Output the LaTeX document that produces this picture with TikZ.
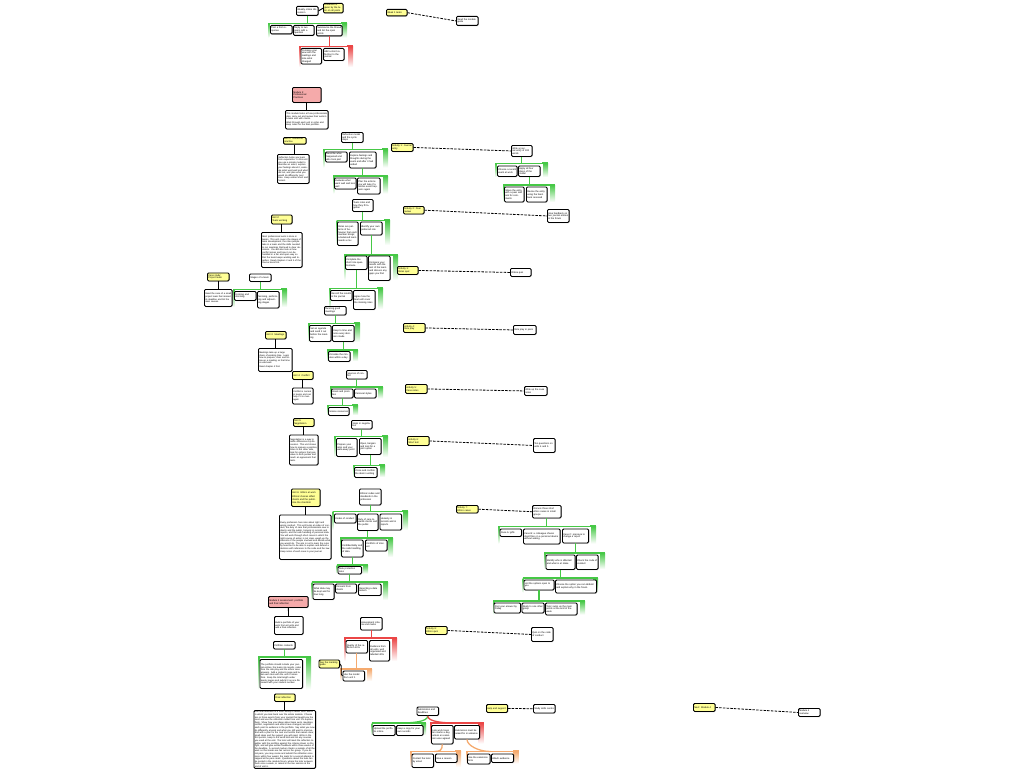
\documentclass[tikz,border=0pt]{standalone}
\usepackage{fontspec}
\setmainfont{Liberation Sans}
\usetikzlibrary{shadows}
\definecolor{grn}{RGB}{70,200,70}
\definecolor{rd}{RGB}{235,70,70}
\definecolor{orn}{RGB}{245,170,110}
\definecolor{tagyel}{RGB}{255,255,150}
\definecolor{headred}{RGB}{245,170,170}
% group frame: name, colour, x1, y1, x2, y2
\newcommand{\grp}[6]{%
  \shade[top color=#2, bottom color=white] (#3,#4) rectangle ({#3+1.4},#6);
  \shade[top color=#2, bottom color=white] ({#5-5},#4) rectangle (#5,#6);
  \fill[#2] ({#5-6},{#4-1.4}) rectangle (#5,{#4+0.8});
  \draw[#2, line width=1.4pt] (#3,#4) -- (#5,#4);
  \coordinate (#1) at (#3,#4);}
\begin{document}
\begin{tikzpicture}[x=1pt, y=-1pt,
    card/.style={draw, line width=0.9pt, rounded corners=1.2pt, fill=white, anchor=north west,
      align=left, inner sep=0.8pt, font=\fontsize{2.4}{2.8}\selectfont,
      drop shadow={shadow xshift=0.6pt, shadow yshift=-0.6pt, fill=black!55}},
    para/.style={card, font=\fontsize{2.3}{2.6}\selectfont},
    tag/.style={card, fill=tagyel},
    head/.style={card, fill=headred},
    glink/.style={grn, line width=1.3pt},
    rlink/.style={rd, line width=1.3pt},
    olink/.style={orn, line width=1.3pt},
    blink/.style={line width=0.9pt},
    dlink/.style={line width=0.8pt, dash pattern=on 2.5pt off 1.2pt}]
\useasboundingbox (0,0) rectangle (1024,768);

% group frames
\grp{g1}{grn}{268}{23.5}{347}{37.5}
\grp{g2}{rd}{299}{46.5}{353}{67}
\grp{g3}{grn}{323}{149.5}{388}{167.5}
\grp{g4}{grn}{333}{176}{388}{193.5}
\grp{g5}{grn}{495}{163.5}{548}{177}
\grp{g6}{grn}{503}{185}{555}{202}
\grp{g7}{grn}{233}{289.5}{287}{307}
\grp{g8}{grn}{336.5}{220.5}{390}{245}
\grp{g9}{grn}{344}{255}{398}{280}
\grp{g10}{grn}{329}{288.5}{383}{309}
\grp{g11}{grn}{308}{323.5}{360}{342}
\grp{g12}{grn}{327}{350}{358}{361}
\grp{g13}{grn}{330}{387}{383}{398.5}
\grp{g14}{grn}{327}{405.5}{358}{415}
\grp{g15}{grn}{334}{436.5}{388}{457}
\grp{g16}{grn}{353}{465.5}{385}{477}
\grp{g17}{grn}{332.5}{511.5}{408}{530}
\grp{g18}{grn}{340}{538}{393}{557}
\grp{g19}{grn}{336.5}{565}{368}{573.5}
\grp{g20}{grn}{311.5}{582}{388}{600}
\grp{g21}{grn}{498}{526.5}{596}{543.5}
\grp{g22}{grn}{544}{553}{605}{569}
\grp{g23}{grn}{522.5}{578}{598}{592.5}
\grp{g24}{grn}{493}{601}{585}{614.5}
\grp{g25}{grn}{258}{657}{311}{689.5}
\grp{g26}{rd}{344}{638}{397}{661}
\grp{g27}{orn}{340}{669}{372}{681}
\grp{g28}{grn}{371.5}{723}{426}{735}
\grp{g29}{rd}{430}{723}{483.5}{743.5}
\grp{g30}{orn}{410}{751.5}{461}{767}
\grp{g31}{orn}{466}{751.5}{518.5}{763.5}

% forum
\node[card, text width=20pt, minimum height=9pt] (a1) at (296,6) {Weekly online discussion};
\node[tag, text width=18pt, minimum height=9pt] (y1) at (323,3) {Feedback is given by the tutor on all posts};
\node[card, text width=20pt, minimum height=8.5pt] (c11) at (270,25) {Post a first response};
\node[card, text width=19pt, minimum height=10pt] (c12) at (293,25) {Reply to two peers with a question};
\node[card, text width=24pt, minimum height=10.5pt] (c13) at (316,25) {Summarise the thread and list the open points};
\node[card, text width=19pt, minimum height=15.5pt] (c21) at (300.5,48) {Compare your view with the readings and note what changed};
\node[card, text width=19pt, minimum height=12pt] (c22) at (323,48) {Add a short reflection to the journal};
\node[tag, text width=19pt, minimum height=6.5pt] (y2) at (386,9) {Week 1 tasks};
\node[card, text width=20pt, minimum height=9pt] (b2) at (456,16) {Read the module guide};

% module
\node[head, text width=27pt, minimum height=15pt] (h1) at (292,87) {Module 3:\\ Professional\\ Practices};
\node[para, text width=41pt, minimum height=18.5pt] (t1) at (285,110) {This module looks at how professionals plan, carry out and review their work in a team and with clients.\\[1pt] Work through each unit in order and keep notes for the final portfolio.};
\node[tag, text width=21pt, minimum height=6.5pt] (y3) at (283,137) {Unit 1: Reflective practice};
\node[para, text width=30pt, minimum height=29pt] (t2) at (277,154) {Reflection helps you learn from experience. In this unit you use a simple model to describe an event, explore your feelings about it, evaluate what went well and what did not, and plan what you would do differently next time. Keep entries short and honest.};
\node[card, text width=20pt, minimum height=10pt] (a2) at (341,132) {Reflection model and the cycle steps};
\node[card, text width=20pt, minimum height=10pt] (c31) at (325,151.5) {Describe what happened and who took part};
\node[card, text width=25pt, minimum height=16pt] (c32) at (349,151.5) {Explore feelings and thoughts during the event and after it had ended};
\node[card, text width=20pt, minimum height=11pt] (c41) at (334,177.5) {Evaluate what went well and less well};
\node[card, text width=21pt, minimum height=16pt] (c42) at (357,177.5) {Plan the actions you will take if a similar event happens again};

\node[tag, text width=20pt, minimum height=8pt] (y4) at (391,143) {Activity 1: Journal entry};
\node[card, text width=19pt, minimum height=11pt] (b4) at (511,145) {Write a journal entry of 300 words};
\node[card, text width=18pt, minimum height=10.5pt] (c51) at (497,165.5) {Choose a recent event at work};
\node[card, text width=20pt, minimum height=10.5pt] (c52) at (518,165.5) {Apply all four steps of the model};
\node[card, text width=18pt, minimum height=15pt] (c61) at (504,186.5) {Share the entry with a peer and ask for comments};
\node[card, text width=19pt, minimum height=15pt] (c62) at (526,186.5) {Revise the entry using the feedback received};
\node[tag, text width=19pt, minimum height=7.5pt] (y5) at (403,206) {Activity 2: Peer review};
\node[card, text width=20pt, minimum height=13pt] (b5) at (547,209) {Give feedback on two journal entries in the forum};

% teams
\node[tag, text width=19pt, minimum height=9pt] (y6) at (271,214.5) {Unit 2:\\ Team working};
\node[para, text width=39pt, minimum height=35pt] (t3) at (261,232) {Most professional work is done in teams. This unit covers the stages of team development, the roles people take in a team and the skills needed to run meetings that lead to clear decisions. You will also look at how conflict arises and how it can be handled in a fair and open way so that the team keeps working well together. Read chapters 2 and 3 of the course book first.};
\node[tag, text width=20pt, minimum height=8pt] (y7) at (207,272.5) {Case study:\\ Project team};
\node[para, text width=26pt, minimum height=17pt] (t4) at (204,289) {Read the case of a small project team that missed its deadline and list the main causes.};
\node[card, text width=20pt, minimum height=7.5pt] (a3) at (249,273.5) {Stages of a team};
\node[card, text width=20pt, minimum height=9pt] (c71) at (234,291) {Forming and storming};
\node[card, text width=20pt, minimum height=16.5pt] (c72) at (257,291) {Norming, performing and adjourning stages};

\node[card, text width=19pt, minimum height=12pt] (a4) at (352,199) {Team roles and how they fit together};
\node[card, text width=19pt, minimum height=23.5pt] (c81) at (337,221.5) {Roles are patterns of behaviour that each member brings; a balanced team needs a mix};
\node[card, text width=20pt, minimum height=13pt] (c82) at (360,221.5) {Identify your own preferred role};
\node[card, text width=20pt, minimum height=13.5pt] (c91) at (345,255.5) {Complete the short role questionnaire};
\node[card, text width=20pt, minimum height=24.5pt] (c92) at (368,255.5) {Compare your results with the rest of the team and discuss any gaps you find};
\node[card, text width=20pt, minimum height=10pt] (c101) at (330,290) {Record the results in the journal};
\node[card, text width=20pt, minimum height=19pt] (c102) at (353,290) {Agree how the team will cover the missing roles};
\node[tag, text width=19pt, minimum height=8pt] (y8) at (397,266) {Activity 3:\\ Roles quiz};
\node[card, text width=19pt, minimum height=8pt] (b8) at (510,268) {Online quiz};

% meetings and conflict
\node[card, text width=20pt, minimum height=8.5pt] (a5) at (324,306) {Running good meetings};
\node[card, text width=20pt, minimum height=16pt] (c111) at (309,325) {Set an agenda and send it out before the meeting};
\node[card, text width=20pt, minimum height=16pt] (c112) at (332,325) {Keep to time and note every decision made};
\node[card, text width=20pt, minimum height=10pt] (c121) at (328,351) {Circulate the minutes within a day};
\node[tag, text width=19pt, minimum height=7.5pt] (y9) at (265,331) {Unit 3: Meetings};
\node[para, text width=32pt, minimum height=23pt] (t5) at (258,348) {Meetings take up a large share of working time. Learn how to prepare, chair and follow up a meeting so that time is used well.\\[1pt] Read chapter 4 first.};
\node[tag, text width=19pt, minimum height=8pt] (y10) at (292,371) {Unit 4: Conflict};
\node[para, text width=19pt, minimum height=16pt] (t6) at (292,387.5) {Conflict is normal in teams and can help if it is managed.};
\node[card, text width=19pt, minimum height=8.5pt] (a6) at (346,370) {Sources of conflict};
\node[card, text width=20pt, minimum height=9pt] (c131) at (331,388.5) {Goals and priorities};
\node[card, text width=20pt, minimum height=9pt] (c132) at (354,388.5) {Personal styles};
\node[card, text width=19pt, minimum height=8pt] (c141) at (328,407) {Scarce resources};
\node[tag, text width=19pt, minimum height=8pt] (y11) at (293,418) {Unit 5:\\ Negotiation};
\node[para, text width=27pt, minimum height=30pt] (t7) at (289,434.5) {Negotiation is a way to settle differences by discussion. This unit shows how to prepare a position, listen to the other side, look for options that give value to both parties and reach an agreement that lasts.};
\node[card, text width=19pt, minimum height=8.5pt] (a7) at (351,420) {Steps in negotiation};
\node[card, text width=19pt, minimum height=18pt] (c151) at (336,438) {Prepare your aims and your walk-away point};
\node[card, text width=20pt, minimum height=16pt] (c152) at (359,438) {Open, bargain and look for a joint option};
\node[card, text width=21pt, minimum height=10pt] (c161) at (354,467) {Close and confirm the deal in writing};
\node[tag, text width=20pt, minimum height=9pt] (y12) at (403,323) {Activity 4:\\ Role play};
\node[card, text width=21pt, minimum height=9pt] (b12) at (513,325) {Role play in pairs};
\node[tag, text width=20pt, minimum height=9pt] (y13) at (405,384) {Activity 5:\\ Case notes};
\node[card, text width=21pt, minimum height=9pt] (b13) at (524,386) {Write up the case notes};
\node[tag, text width=20pt, minimum height=9pt] (y14) at (407,436) {Activity 6:\\ Short test};
\node[card, text width=20pt, minimum height=14pt] (b14) at (533,438) {Ten questions on units 4 and 5};

% ethics
\node[tag, text width=27pt, minimum height=17.5pt] (y15) at (291,488.5) {Unit 6: Ethics at work\\[1pt] Ethical choices affect clients and the public. Use the checklist.};
\node[para, text width=50pt, minimum height=44.5pt] (t8) at (279,514.5) {Every profession has rules about right and wrong conduct. This unit looks at codes of conduct, the duty of care that professionals owe to clients and the public, honesty in records and reports, and the safe handling of personal data. You will work through short cases in which the right course of action is not clear, weigh up the interests of the people involved and decide what you would do. The aim is not to learn the rules by heart but to be able to explain and defend a decision with reference to the code and the law. Keep notes of each case in your journal.};
\node[card, text width=20pt, minimum height=16pt] (a8) at (359,488.5) {Ethical codes and standards in the profession};
\node[card, text width=20pt, minimum height=9pt] (c171) at (334,513.5) {Codes of conduct};
\node[card, text width=19pt, minimum height=16.5pt] (c172) at (357,513.5) {Duty of care towards clients and the public};
\node[card, text width=20pt, minimum height=16pt] (c173) at (379.5,513.5) {Honesty in records and in reports};
\node[card, text width=20pt, minimum height=17pt] (c181) at (341,539.5) {Confidentiality and the safe handling of data};
\node[card, text width=20pt, minimum height=11pt] (c182) at (365,539.5) {Conflicts of interest};
\node[card, text width=22pt, minimum height=7.5pt] (c191) at (337.5,566) {Data protection rules};
\node[card, text width=19.5pt, minimum height=15.5pt] (c201) at (312.5,583.5) {What data may be kept and for how long};
\node[card, text width=19.5pt, minimum height=9pt] (c202) at (335,583.5) {Consent from clients};
\node[card, text width=21pt, minimum height=11.5pt] (c203) at (358,583.5) {Reporting a data breach};

\node[tag, text width=20pt, minimum height=7.5pt] (y16) at (456,505) {Activity 7:\\ Ethics cases};
\node[card, text width=27pt, minimum height=12.5pt] (b16) at (532,505) {Discuss three short ethics cases in small groups};
\node[card, text width=20pt, minimum height=7.5pt] (c211) at (499.5,528.5) {Case A: gifts};
\node[card, text width=35pt, minimum height=15pt] (c212) at (523,528.5) {Case B: a colleague shares client files on a personal device without asking};
\node[card, text width=24.5pt, minimum height=14pt] (c213) at (562,528.5) {Case C: pressure to change a report};
\node[card, text width=27.5pt, minimum height=14.5pt] (c221) at (545.5,554.5) {Identify who is affected and what is at stake};
\node[card, text width=20pt, minimum height=14.5pt] (c222) at (576,554.5) {Check the code of conduct};
\node[card, text width=28.5pt, minimum height=10pt] (c231) at (523.5,579.5) {List the options open to you};
\node[card, text width=39.5pt, minimum height=13pt] (c232) at (555,579.5) {Choose the option you can defend and explain why in the forum};
\node[card, text width=25pt, minimum height=10pt] (c241) at (493.5,602.5) {Post your answer by Friday};
\node[card, text width=20.5pt, minimum height=10pt] (c242) at (521.5,602.5) {Reply to one other group};
\node[card, text width=30pt, minimum height=12pt] (c243) at (545,602.5) {Tutor sums up the main points at the end of the week};
\node[tag, text width=20pt, minimum height=8pt] (y17) at (425,626) {Activity 8:\\ Ethics quiz};
\node[card, text width=20pt, minimum height=14pt] (b17) at (531,627) {Quiz on the code of conduct};

% assessment
\node[head, text width=38pt, minimum height=11pt] (h2) at (268,596) {Module 3 assessment: portfolio and final reflection};
\node[para, text width=27pt, minimum height=18pt] (t9) at (274,616) {Build a portfolio of your work from all units and add a final reflection.};
\node[card, text width=20pt, minimum height=7.5pt] (a9) at (273,641) {Portfolio contents};
\node[para, text width=41pt, minimum height=29pt] (t10) at (259.5,659) {The portfolio should include your journal entries, the team role results, notes from the role play and the ethics case answers. Add a contents page and label each item with the unit it comes from. Keep the total length under twenty pages and submit it as one file named with your student number.};
\node[tag, text width=19pt, minimum height=7.5pt] (y18) at (274,693.5) {Final reflection};
\node[para, text width=60pt, minimum height=55pt] (t11) at (253.5,710) {The final reflection is a short essay of about 1500 words in which you look back over the whole module. Choose two or three events from your journal that taught you the most and use the reflection model from unit 1 to explore them. Show how your ideas about team work, meetings, conflict, negotiation and ethics have changed, and link each point to evidence in the portfolio. Say what you now do differently at work and what you still want to improve. End with a plan for the next six months that names clear, small steps and the support you will need. Write in the first person, keep to the word limit and list any sources you used at the end. The tutor will mark the reflection together with the portfolio against the criteria shown on the right, and will give written feedback within three weeks of the deadline. A second marker checks a sample of all the work so that marks are fair across the group. If you do not pass, you may revise and submit the reflection once more within four weeks; the mark for a second attempt is capped at the pass mark. Questions about the task can be posted in the module forum, where the tutor answers them once a week, or raised in the live session at the end of unit 6.};
\node[card, text width=20pt, minimum height=12.5pt] (a10) at (360,617) {Assessment criteria and marks};
\node[card, text width=20pt, minimum height=12.5pt] (c261) at (345.5,640) {Quality of the reflection 40\%};
\node[card, text width=18.5pt, minimum height=20.5pt] (c262) at (369,640) {Evidence from all units, well organised and labelled 40\%};
\node[card, text width=20pt, minimum height=10pt] (c271) at (342.5,670.5) {Use the model from unit 1};
\node[tag, text width=19pt, minimum height=8pt] (y19) at (318.5,659.5) {See the marking guide};
\node[card, text width=20pt, minimum height=8.5pt] (a11) at (416.5,706.5) {Submission and deadlines};
\node[card, text width=20.5pt, minimum height=10pt] (c281) at (372.5,725) {Upload the portfolio online};
\node[card, text width=25pt, minimum height=10pt] (c282) at (396,725) {Keep a copy for your own records};
\node[card, text width=20pt, minimum height=18.5pt] (c291) at (431,725) {Late work loses ten marks a day unless an extension was agreed};
\node[card, text width=23.5pt, minimum height=13.5pt] (c292) at (454,725) {Extensions must be asked for in advance};
\node[card, text width=20pt, minimum height=13.5pt] (c301) at (411.5,753.5) {Contact the tutor by email};
\node[card, text width=20pt, minimum height=8.5pt] (c302) at (435,753.5) {Give a reason};
\node[card, text width=21pt, minimum height=10pt] (c311) at (467,753.5) {Use the extension form};
\node[card, text width=20.5pt, minimum height=8.5pt] (c312) at (491,753.5) {Attach evidence};
\node[tag, text width=19.5pt, minimum height=8pt] (y20) at (486,704) {Help and support};
\node[card, text width=20pt, minimum height=8.5pt] (b20) at (533,704) {Study skills centre};
\node[tag, text width=20pt, minimum height=8pt] (y21) at (693,703) {Next: Module 4};
\node[card, text width=20pt, minimum height=8pt] (b21) at (798,708) {Module 4 overview};

% junctions for the curved links
\coordinate (j28) at (400,723);
\coordinate (j29) at (456,723);
\coordinate (j30) at (434,751.5);
\coordinate (j31) at (490.5,751.5);

% links
\draw[blink] (a1.east) -- (y1.west);
\draw[glink] (a1.south) -- (a1.south |- g1);
\draw[rlink] (c13.south) -- (c13.south |- g2);
\draw[dlink] (y2.east) -- (b2.west);
\draw[blink] (h1) -- (t1);
\draw[blink] (y3.south) -- (y3.south |- t2.north);
\draw[glink] (a2.south) -- (a2.south |- g3);
\draw[glink] (c32.south) -- (c32.south |- g4);
\draw[dlink] (y4.east) -- (b4.west);
\draw[glink] (b4.south) -- (b4.south |- g5);
\draw[glink] (c52.south) -- (c52.south |- g6);
\draw[dlink] (y5.east) -- (b5.west);
\draw[blink] (y6.south) -- (y6.south |- t3.north);
\draw[blink] (y7.south) -- (y7.south |- t4.north);
\draw[glink] (a3.south) -- (a3.south |- g7);
\draw[glink] (a4.south) -- (a4.south |- g8);
\draw[glink] (c82.south) -- (c82.south |- g9);
\draw[glink] (c91.south) -- (c91.south |- g10);
\draw[dlink] (y8.east) -- (b8.west);
\draw[glink] (a5.south) -- (a5.south |- g11);
\draw[glink] (c112.south) -- (c112.south |- g12);
\draw[blink] (y9.south) -- (y9.south |- t5.north);
\draw[blink] (y10.south) -- (y10.south |- t6.north);
\draw[glink] (a6.south) -- (a6.south |- g13);
\draw[glink] (c131.south) -- (c131.south |- g14);
\draw[blink] (y11.south) -- (y11.south |- t7.north);
\draw[glink] (a7.south) -- (a7.south |- g15);
\draw[glink] (c152.south) -- (c152.south |- g16);
\draw[dlink] (y12.east) -- (b12.west);
\draw[dlink] (y13.east) -- (b13.west);
\draw[dlink] (y14.east) -- (b14.west);
\draw[blink] (y15.south) -- (y15.south |- t8.north);
\draw[glink] (a8.south) -- (a8.south |- g17);
\draw[glink] (c172.south) -- (c172.south |- g18);
\draw[glink] (c181.south) -- (c181.south |- g19);
\draw[glink] (c191.south) -- (c191.south |- g20);
\draw[dlink] (y16.east) -- (b16.west);
\draw[glink] (b16.south) -- (b16.south |- g21);
\draw[glink] (c213.south) -- (c213.south |- g22);
\draw[glink] (c221.south) -- (c221.south |- g23);
\draw[glink] (c231.south) -- (c231.south |- g24);
\draw[dlink] (y17.east) -- (b17.west);
\draw[blink] (h2) -- (t9);
\draw[glink] (a9.south) -- (a9.south |- g25);
\draw[blink] (y18.south) -- (y18.south |- t11.north);
\draw[rlink] (a10.south) -- (a10.south |- g26);
\draw[olink] (c261.south) -- (c261.south |- g27);
\draw[blink] (y19.east) .. controls +(3,0) and +(-3,0) .. (c271.west);
\draw[glink] (a11.south) .. controls +(0,6) and +(12,0) .. (j28);
\draw[rlink] (a11.south) .. controls +(0,6) and +(-12,0) .. (j29);
\draw[olink] (c291.south) .. controls +(0,6) and +(6,0) .. (j30);
\draw[olink] (c292.south) .. controls +(0,6) and +(-12,0) .. (j31);
\draw[dlink] (y20.east) -- (b20.west);
\draw[dlink] (y21.east) -- (b21.west);
\end{tikzpicture}
\end{document}
